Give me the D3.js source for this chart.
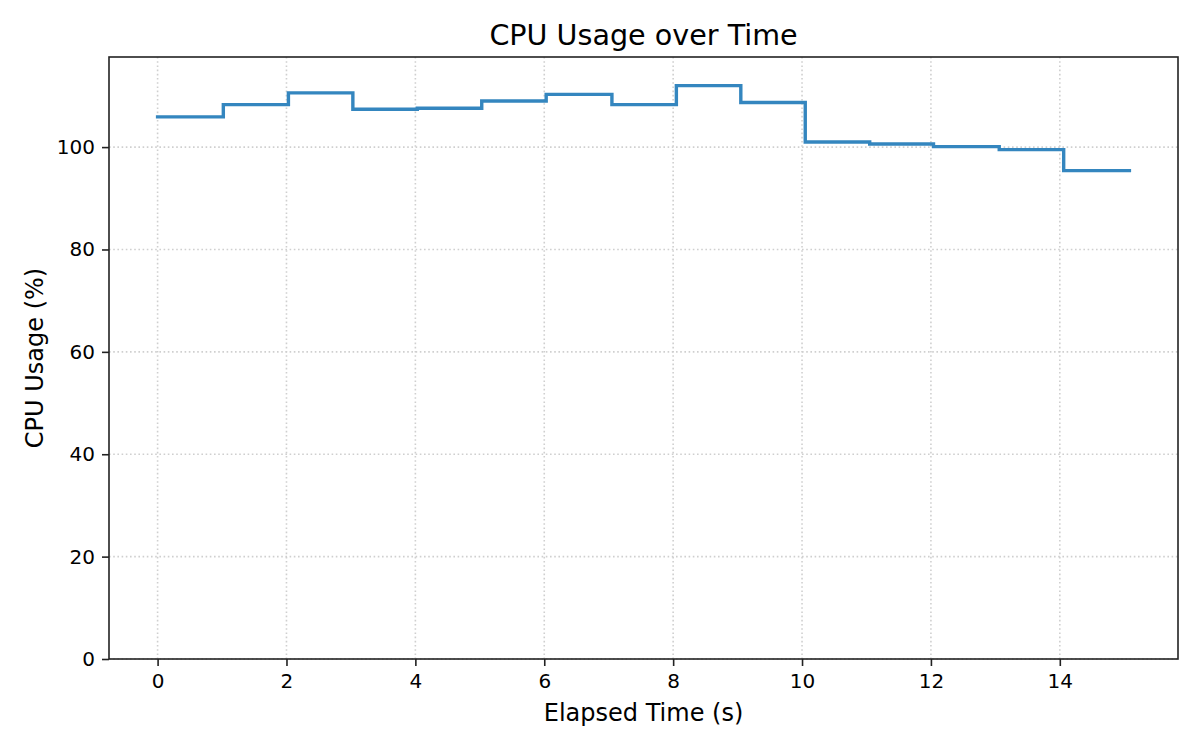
<!DOCTYPE html>
<html>
<head>
<meta charset="utf-8">
<script src="https://cdn.jsdelivr.net/npm/d3@7"></script>
<style>
  html, body { margin: 0; padding: 0; background: #fff; }
  svg { display: block; font-family: "DejaVu Sans", sans-serif; }
</style>
</head>
<body>
<svg id="chart" width="1200" height="750"></svg>
<script>
// ---------- Data ----------
const times = [0, 1.02, 2.03, 3.03, 4.03, 5.03, 6.03, 7.05, 8.05, 9.05, 10.05, 11.05, 12.04, 13.06, 14.06, 15.08];
const cpuUsage = [105.9, 108.3, 110.6, 107.4, 107.6, 109.0, 110.3, 108.3, 112.0, 108.7, 101.0, 100.6, 100.1, 99.5, 95.4, 95.4];
const xTicks = [0, 2, 4, 6, 8, 10, 12, 14];
const yTicks = [0, 20, 40, 60, 80, 100];

const points = times.map((t, i) => ({ t, v: cpuUsage[i] }));

// ---------- Layout ----------
const width = 1200, height = 750;
const margin = { top: 57, right: 22, bottom: 91, left: 109 };
const innerW = width - margin.left - margin.right;
const innerH = height - margin.top - margin.bottom;
const FONT = '"DejaVu Sans", sans-serif';

const svg = d3.select('#chart');
const g = svg.append('g').attr('transform', `translate(${margin.left},${margin.top})`);

// ---------- Scales (matplotlib-like 5% x margin, y from 0) ----------
const [tMin, tMax] = d3.extent(times);
const pad = (tMax - tMin) * 0.05;
const x = d3.scaleLinear().domain([tMin - pad, tMax + pad]).range([0, innerW]);
const y = d3.scaleLinear().domain([0, d3.max(cpuUsage) * 1.05]).range([innerH, 0]);

// ---------- Grid ----------
const grid = g.append('g').attr('class', 'grid')
  .attr('stroke', '#cfcfcf').attr('stroke-width', 1.6).attr('stroke-dasharray', '1.6,2.6');

grid.selectAll('line.gx')
  .data(xTicks)
  .join('line')
  .attr('class', 'gx')
  .attr('x1', d => x(d)).attr('x2', d => x(d))
  .attr('y1', 0).attr('y2', innerH);

grid.selectAll('line.gy')
  .data(yTicks)
  .join('line')
  .attr('class', 'gy')
  .attr('x1', 0).attr('x2', innerW)
  .attr('y1', d => y(d)).attr('y2', d => y(d));

// ---------- Step line ----------
const line = d3.line()
  .x(d => x(d.t))
  .y(d => y(d.v))
  .curve(d3.curveStepAfter);

g.append('path')
  .datum(points)
  .attr('fill', 'none')
  .attr('stroke', '#3486bf')
  .attr('stroke-width', 3.4)
  .attr('stroke-linecap', 'square')
  .attr('stroke-linejoin', 'miter')
  .attr('d', line);

// ---------- Axes ----------
const xAxis = g.append('g')
  .attr('transform', `translate(0,${innerH})`)
  .call(d3.axisBottom(x).tickValues(xTicks).tickSize(7).tickPadding(7).tickFormat(d3.format('d')));

const yAxis = g.append('g')
  .call(d3.axisLeft(y).tickValues(yTicks).tickSize(7).tickPadding(7).tickFormat(d3.format('d')));

[xAxis, yAxis].forEach(ax => {
  ax.attr('font-family', FONT).attr('font-size', 20);
  ax.select('.domain').remove();
  ax.selectAll('.tick line').attr('stroke', '#222').attr('stroke-width', 1.6);
  ax.selectAll('.tick text').attr('fill', '#000').attr('font-size', 20).attr('font-family', FONT);
});
xAxis.selectAll('.tick text').attr('dy', '0.76em');

// Frame (all four spines)
g.append('rect')
  .attr('x', 0).attr('y', 0)
  .attr('width', innerW).attr('height', innerH)
  .attr('fill', 'none')
  .attr('stroke', '#222')
  .attr('stroke-width', 1.6);

// ---------- Labels ----------
svg.append('text')
  .attr('x', margin.left + innerW / 2)
  .attr('y', 45)
  .attr('text-anchor', 'middle')
  .attr('font-family', FONT)
  .attr('font-size', 28.6)
  .text('CPU Usage over Time');

svg.append('text')
  .attr('x', margin.left + innerW / 2)
  .attr('y', 721)
  .attr('text-anchor', 'middle')
  .attr('font-family', FONT)
  .attr('font-size', 24)
  .text('Elapsed Time (s)');

svg.append('text')
  .attr('transform', `translate(43,${margin.top + innerH / 2}) rotate(-90)`)
  .attr('text-anchor', 'middle')
  .attr('font-family', FONT)
  .attr('font-size', 24)
  .text('CPU Usage (%)');
</script>
</body>
</html>
